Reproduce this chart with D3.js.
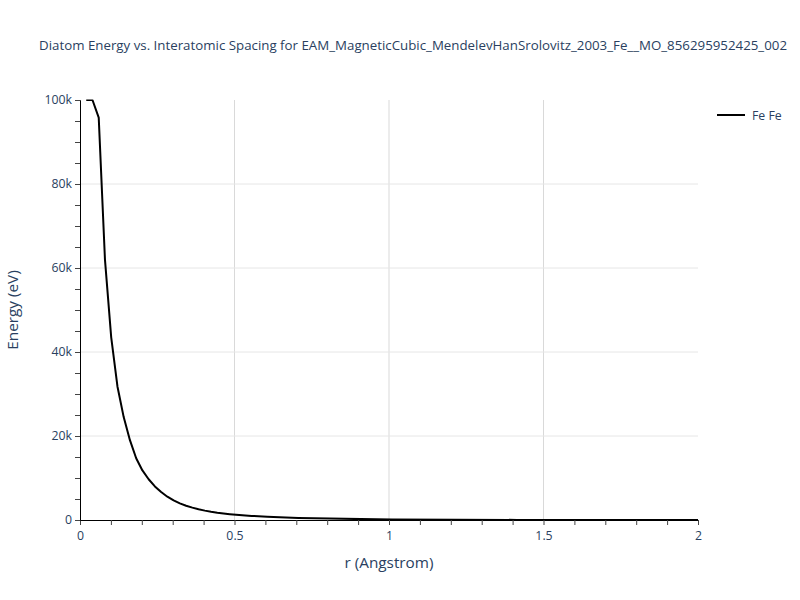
<!DOCTYPE html>
<html>
<head>
<meta charset="utf-8">
<script src="https://cdn.jsdelivr.net/npm/d3@7"></script>
<style>
  body { margin: 0; background: #fff; }
  svg { font-family: "Open Sans", "Noto Sans", sans-serif; }
</style>
</head>
<body>
<svg id="chart" width="800" height="600"></svg>
<script>
// ---- data ----
const rValues = [0.0202, 0.0404, 0.0606, 0.0808, 0.1010, 0.1212, 0.1414, 0.1616, 0.1818, 0.2020,
                 0.2222, 0.2424, 0.2626, 0.2828, 0.3030, 0.3232, 0.3434, 0.3636, 0.3838, 0.4040,
                 0.4242, 0.4444, 0.4646, 0.4848, 0.5051, 0.5556, 0.6061, 0.7071, 0.8081, 0.9091,
                 1.0101, 1.2121, 1.4141, 1.6162, 1.8182, 2.0000];
const energyValues = [250000, 140000, 95800, 62000, 43500, 31800, 24500, 19000, 14700, 11800,
                      9700, 8000, 6650, 5550, 4650, 3950, 3400, 2950, 2550, 2230,
                      1960, 1730, 1540, 1380, 1250, 980, 780, 500, 330, 215,
                      140, 60, 25, 10, 5, 0];
const seriesName = "Fe Fe";
const xTickLabels = ["0", "0.5", "1", "1.5", "2"];
const yTickLabels = ["0", "20k", "40k", "60k", "80k", "100k"];
const titleText = "Diatom Energy vs. Interatomic Spacing for EAM_MagneticCubic_MendelevHanSrolovitz_2003_Fe__MO_856295952425_002";

// ---- layout ----
const svg = d3.select("#chart");
const margin = { left: 80, top: 100, right: 102, bottom: 80 };
const W = 800, H = 600;
const pw = W - margin.left - margin.right;
const ph = H - margin.top - margin.bottom;
const textColor = "#2a3f5f";

const x = d3.scaleLinear().domain([0, 2]).range([margin.left, margin.left + pw]);
const y = d3.scaleLinear().domain([0, 100000]).range([margin.top + ph, margin.top]);

// gridlines
const xMajor = d3.range(0, 2.0001, 0.5);
const yMajor = d3.range(0, 100001, 20000);
svg.append("g").selectAll("line").data(xMajor.filter(v => v > 0 && v < 2)).join("line")
  .attr("x1", d => x(d)).attr("x2", d => x(d))
  .attr("y1", margin.top).attr("y2", margin.top + ph)
  .attr("stroke", "#d9d9d9").attr("stroke-width", 1);
svg.append("g").selectAll("line").data(yMajor.filter(v => v > 0 && v < 100000)).join("line")
  .attr("x1", margin.left).attr("x2", margin.left + pw)
  .attr("y1", d => y(d)).attr("y2", d => y(d))
  .attr("stroke", "#e6e6e6").attr("stroke-width", 1);

// axes
const xAxis = d3.axisBottom(x)
  .tickValues(d3.range(0, 2.0001, 0.1))
  .tickSize(5).tickPadding(4)
  .tickFormat((d) => {
    const i = xMajor.findIndex(v => Math.abs(v - d) < 1e-6);
    return i >= 0 ? xTickLabels[i] : "";
  });
const yAxis = d3.axisLeft(y)
  .tickValues(d3.range(0, 100001, 5000))
  .tickSize(5).tickPadding(3)
  .tickFormat((d) => {
    const i = yMajor.indexOf(d);
    return i >= 0 ? yTickLabels[i] : "";
  });

const gx = svg.append("g").attr("transform", `translate(0,${margin.top + ph})`).call(xAxis);
const gy = svg.append("g").attr("transform", `translate(${margin.left},0)`).call(yAxis);
[gx, gy].forEach(g => {
  g.select(".domain").attr("stroke", "#000").attr("stroke-width", 1);
  g.selectAll(".tick line").attr("stroke", "#444");
  g.selectAll(".tick text").attr("fill", textColor).attr("font-size", 12.3)
    .style("font-family", "'Open Sans', sans-serif");
});
gx.selectAll(".tick text").attr("dy", "0.9em");

// clip
svg.append("clipPath").attr("id", "clip").append("rect")
  .attr("x", margin.left).attr("y", margin.top - 0.5).attr("width", pw).attr("height", ph + 0.5);

// line
const data = rValues.map((r, i) => ({ r, e: energyValues[i] }));
const yMax = y.domain()[1];
const line = d3.line().x(d => x(d.r)).y(d => y(Math.min(d.e, yMax)));
svg.append("path").datum(data)
  .attr("clip-path", "url(#clip)")
  .attr("fill", "none").attr("stroke", "#000").attr("stroke-width", 2)
  .attr("stroke-linejoin", "round")
  .attr("d", line);

// title
svg.append("text").attr("x", 413).attr("y", 50).attr("text-anchor", "middle")
  .attr("fill", textColor).attr("font-size", 13.3).text(titleText);

// axis titles
svg.append("text").attr("x", margin.left + pw / 2).attr("y", 568).attr("text-anchor", "middle")
  .attr("fill", textColor).attr("font-size", 15.3).text("r (Angstrom)");
svg.append("text").attr("transform", `translate(18,${margin.top + ph / 2}) rotate(-90)`)
  .attr("text-anchor", "middle").attr("fill", textColor).attr("font-size", 15.3).text("Energy (eV)");

// legend
const lg = svg.append("g").attr("transform", "translate(717,115)");
lg.append("line").attr("x1", 0).attr("x2", 28).attr("y1", 0).attr("y2", 0)
  .attr("stroke", "#000").attr("stroke-width", 2);
lg.append("text").attr("x", 35).attr("y", 4.5).attr("fill", textColor).attr("font-size", 12.3).text(seriesName);
</script>
</body>
</html>
